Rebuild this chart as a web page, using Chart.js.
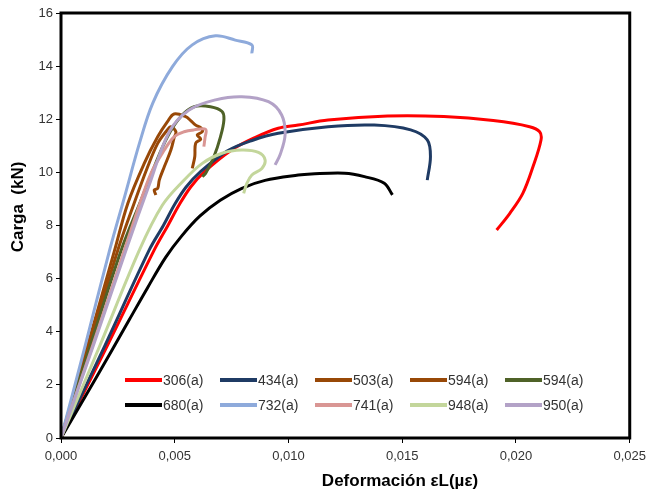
<!DOCTYPE html>
<html>
<head>
<meta charset="utf-8">
<script src="https://cdn.jsdelivr.net/npm/chart.js@4"></script>
<style>
  body { margin: 0; background: #fff; }
  canvas { display: block; }
</style>
</head>
<body>
<canvas id="cargaChart" width="652" height="493"></canvas>
<script>
// series names as in the legend
const seriesNames = ['306(a)', '434(a)', '503(a)', '594(a)', '594(a)',
                     '680(a)', '732(a)', '741(a)', '948(a)', '950(a)'];

// axis titles
const xTitle = 'Deformación εL(µε)';
const yTitle = 'Carga  (kN)';

// strain (x) and load in kN (y)
const strain306 = [0, 0.00205, 0.0041, 0.0047, 0.00519, 0.0057, 0.00628, 0.0075, 0.0085, 0.00955, 0.01043, 0.01174, 0.01435, 0.01683, 0.0190, 0.0206, 0.02104, 0.0211, 0.02075, 0.0203, 0.01973, 0.01915];
const load306   = [0, 3.5, 7.08, 8.0, 8.77, 9.45, 10.0, 10.84, 11.3, 11.66, 11.78, 11.97, 12.12, 12.1, 11.95, 11.72, 11.53, 11.22, 10.22, 9.21, 8.46, 7.83];

const strain434 = [0, 0.00194, 0.00388, 0.0045, 0.0050, 0.0055, 0.0061, 0.0073, 0.0084, 0.00955, 0.01174, 0.01377, 0.01537, 0.0161, 0.01624, 0.0161];
const load434   = [0, 3.5, 7.08, 8.0, 8.8, 9.45, 10.0, 10.8, 11.2, 11.47, 11.72, 11.78, 11.6, 11.22, 10.59, 9.71];

const strain503 = [0, 0.00118, 0.00236, 0.00294, 0.00366, 0.00425, 0.00468, 0.00497, 0.00548, 0.0057, 0.00592, 0.00617, 0.00621, 0.00599, 0.00614, 0.00592, 0.00588, 0.00577];
const load503   = [0, 3.5, 7.08, 8.84, 10.34, 11.34, 11.91, 12.2, 12.1, 11.95, 11.78, 11.66, 11.53, 11.41, 11.25, 11.1, 10.59, 10.15];

const strain594a = [0, 0.00125, 0.0025, 0.0032, 0.00381, 0.00425, 0.00461, 0.00483, 0.00505, 0.00497, 0.00483, 0.00454, 0.00432, 0.00425, 0.0041, 0.00417];
const load594a   = [0, 3.5, 7.08, 8.8, 10.21, 11.09, 11.53, 11.72, 11.53, 11.3, 10.84, 10.21, 9.71, 9.4, 9.34, 9.15];

const strain594b = [0, 0.0013, 0.00265, 0.00352, 0.0041, 0.00468, 0.00527, 0.00585, 0.00657, 0.00708, 0.00716, 0.00701, 0.00672, 0.00636, 0.00621];
const load594b   = [0, 3.5, 7.08, 8.96, 10.21, 11.34, 12.1, 12.47, 12.47, 12.29, 11.97, 11.34, 10.59, 9.97, 9.84];

const strain680 = [0, 0.0015, 0.0030, 0.0038, 0.0046, 0.0053, 0.0061, 0.0070, 0.00795, 0.00897, 0.01043, 0.0110, 0.01247, 0.01334, 0.01421, 0.01457];
const load680   = [0, 2.2, 4.45, 5.65, 6.8, 7.6, 8.35, 8.95, 9.4, 9.7, 9.9, 9.94, 9.97, 9.84, 9.59, 9.15];

const strain732 = [0, 0.00107, 0.00214, 0.0028, 0.00345, 0.00403, 0.0049, 0.00577, 0.00679, 0.00766, 0.00839, 0.00839];
const load732   = [0, 3.5, 7.08, 9.1, 11.1, 12.6, 13.98, 14.8, 15.14, 14.98, 14.8, 14.48];

const strain741 = [0, 0.0014, 0.00279, 0.00337, 0.00396, 0.00454, 0.00497, 0.00541, 0.00585, 0.00636, 0.00633, 0.00628];
const load741   = [0, 3.5, 7.08, 8.58, 9.97, 10.84, 11.34, 11.53, 11.6, 11.62, 11.3, 10.97];

const strain948 = [0, 0.00172, 0.00345, 0.00446, 0.00534, 0.00621, 0.00708, 0.00795, 0.00868, 0.00897, 0.00883, 0.00839, 0.00817, 0.00803];
const load948   = [0, 3.5, 7.08, 8.77, 9.65, 10.34, 10.72, 10.84, 10.75, 10.47, 10.15, 9.9, 9.59, 9.21];

const strain950 = [0, 0.00143, 0.00286, 0.00388, 0.00476, 0.00563, 0.00679, 0.00795, 0.00912, 0.0097, 0.00985, 0.00963, 0.00941];
const load950   = [0, 3.5, 7.08, 9.53, 11.53, 12.35, 12.73, 12.85, 12.66, 12.16, 11.41, 10.66, 10.28];

const strainSeries = [strain306, strain434, strain503, strain594a, strain594b,
                      strain680, strain732, strain741, strain948, strain950];
const loadSeries   = [load306, load434, load503, load594a, load594b,
                      load680, load732, load741, load948, load950];

const seriesColors = ['#FF0000', '#1F3B64', '#984807', '#984807', '#4F6228',
                      '#000000', '#8EAADB', '#D99694', '#C3D69B', '#B3A2C7'];

const FONT = '"Liberation Sans", Arial, sans-serif';

const datasets = seriesNames.map((name, i) => ({
    label: name,
    data: strainSeries[i].map((x, k) => ({ x: x, y: loadSeries[i][k] })),
    borderColor: seriesColors[i],
    backgroundColor: seriesColors[i],
    borderWidth: 3,
    pointRadius: 0,
    fill: false,
    tension: 0.35,
    order: seriesNames.length - i
}));

// legend drawn inside the plot, two rows of five
const insideLegend = {
    id: 'insideLegend',
    afterDraw(chart) {
        const ctx = chart.ctx;
        ctx.save();
        ctx.font = '14px ' + FONT;
        ctx.textBaseline = 'middle';
        ctx.textAlign = 'left';
        chart.data.datasets.forEach((ds, i) => {
            const col = i % 5, row = Math.floor(i / 5);
            const x = 125 + col * 95;
            const y = 380 + row * 25;
            ctx.strokeStyle = ds.borderColor;
            ctx.lineWidth = 4;
            ctx.beginPath();
            ctx.moveTo(x, y);
            ctx.lineTo(x + 37, y);
            ctx.stroke();
            ctx.fillStyle = '#333';
            ctx.fillText(ds.label, x + 38, y + 1);
        });
        ctx.restore();
    }
};

// heavy black frame round the plot area, plus the axis titles where Excel put them
const plotFrame = {
    id: 'plotFrame',
    afterDatasetsDraw(chart) {
        const a = chart.chartArea;
        const ctx = chart.ctx;
        ctx.save();
        ctx.strokeStyle = '#000';
        ctx.lineWidth = 3;
        ctx.strokeRect(a.left, a.top, a.right - a.left, a.bottom - a.top);

        ctx.fillStyle = '#000';
        ctx.font = 'bold 17px ' + FONT;
        ctx.textAlign = 'center';
        ctx.textBaseline = 'middle';
        ctx.fillText(xTitle, 400, 481);
        ctx.translate(18, 207);
        ctx.rotate(-Math.PI / 2);
        ctx.fillText(yTitle, 0, 0);
        ctx.restore();
    }
};

new Chart(document.getElementById('cargaChart'), {
    type: 'line',
    data: { datasets },
    options: {
        responsive: false,
        animation: false,
        layout: { padding: { left: 0, top: 13, right: 18, bottom: 0 } },
        plugins: {
            legend: { display: false },
            tooltip: { enabled: false }
        },
        scales: {
            x: {
                type: 'linear',
                min: 0,
                max: 0.025,
                afterFit: s => { s.height = 55; },
                border: { display: false },
                grid: { drawOnChartArea: false, drawTicks: true, tickLength: 5, color: '#000' },
                ticks: {
                    stepSize: 0.005,
                    padding: 6,
                    color: '#333',
                    font: { family: FONT, size: 13 },
                    maxRotation: 0,
                    callback: v => v.toFixed(3).replace('.', ',')
                }
            },
            y: {
                min: 0,
                max: 16,
                afterFit: s => { s.width = 61; },
                border: { display: false },
                grid: { drawOnChartArea: false, drawTicks: true, tickLength: 5, color: '#000' },
                ticks: {
                    stepSize: 2,
                    padding: 3,
                    color: '#333',
                    font: { family: FONT, size: 13 }
                }
            }
        }
    },
    plugins: [plotFrame, insideLegend]
});
</script>
</body>
</html>
